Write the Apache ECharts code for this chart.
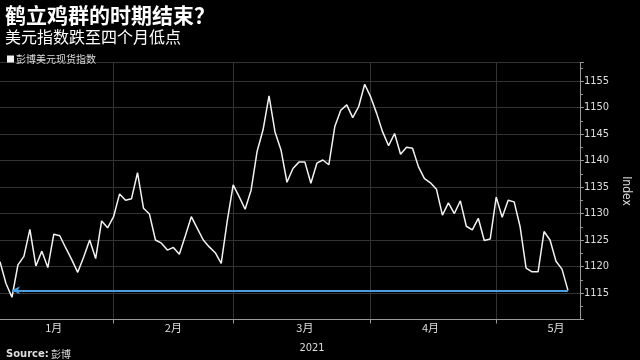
<!DOCTYPE html>
<html>
<head>
<meta charset="utf-8">
<script src="https://cdn.jsdelivr.net/npm/echarts@6/dist/echarts.min.js"></script>
<style>
html,body{margin:0;padding:0;background:#000;}
#chart{width:640px;height:360px;}
</style>
</head>
<body>
<div id="chart"></div>
<script>
// Trading days (categories)
const dates = [
  '2021-01-04','2021-01-05','2021-01-06','2021-01-07','2021-01-08','2021-01-11','2021-01-12','2021-01-13','2021-01-14','2021-01-15',
  '2021-01-18','2021-01-19','2021-01-20','2021-01-21','2021-01-22','2021-01-25','2021-01-26','2021-01-27','2021-01-28','2021-01-29',
  '2021-02-01','2021-02-02','2021-02-03','2021-02-04','2021-02-05','2021-02-08','2021-02-09','2021-02-10','2021-02-11','2021-02-12',
  '2021-02-15','2021-02-16','2021-02-17','2021-02-18','2021-02-19','2021-02-22','2021-02-23','2021-02-24','2021-02-25','2021-02-26',
  '2021-03-01','2021-03-02','2021-03-03','2021-03-04','2021-03-05','2021-03-08','2021-03-09','2021-03-10','2021-03-11','2021-03-12',
  '2021-03-15','2021-03-16','2021-03-17','2021-03-18','2021-03-19','2021-03-22','2021-03-23','2021-03-24','2021-03-25','2021-03-26',
  '2021-03-29','2021-03-30','2021-03-31',
  '2021-04-01','2021-04-05','2021-04-06','2021-04-07','2021-04-08','2021-04-09','2021-04-12','2021-04-13','2021-04-14','2021-04-15',
  '2021-04-16','2021-04-19','2021-04-20','2021-04-21','2021-04-22','2021-04-23','2021-04-26','2021-04-27','2021-04-28','2021-04-29',
  '2021-04-30',
  '2021-05-03','2021-05-04','2021-05-05','2021-05-06','2021-05-07','2021-05-10','2021-05-11','2021-05-12','2021-05-13','2021-05-14',
  '2021-05-17','2021-05-18','2021-05-19','2021-05-20'
];
// Bloomberg Dollar Spot Index values
const values = [
  1120.9,1116.8,1114.2,1120.3,1121.9,1127.0,1120.1,1122.9,1119.8,1126.1,
  1125.8,1123.5,1121.3,1118.9,1121.8,1125.0,1121.5,1128.6,1127.3,1129.4,
  1133.7,1132.5,1132.8,1137.7,1131.0,1129.9,1125.0,1124.4,1123.1,1123.6,
  1122.3,1125.8,1129.4,1127.2,1125.0,1123.7,1122.6,1120.6,1128.5,1135.4,
  1133.2,1130.8,1134.4,1141.7,1145.8,1152.2,1145.4,1142.0,1135.9,1138.5,
  1139.7,1139.7,1135.7,1139.5,1140.1,1139.2,1146.4,1149.5,1150.5,1148.1,
  1150.2,1154.4,1152.0,1148.9,1145.4,1142.8,1145.1,1141.2,1142.5,1142.3,
  1138.8,1136.6,1135.8,1134.6,1129.7,1132.0,1130.0,1132.4,1127.6,1126.9,
  1129.1,1124.9,1125.2,1133.1,1129.3,1132.5,1132.2,1127.5,1119.7,1119.0,
  1119.0,1126.6,1125.0,1121.0,1119.5,1115.5
];
// Month label positions (dates) and y ticks
const monthLabelDates = ['2021-01-15','2021-02-12','2021-03-16','2021-04-15','2021-05-14'];
const yMin = 1110, yMax = 1158.5, yStep = 5;
const seriesName = '彭博美元现货指数';

const lastIdx = values.length - 1;
const lastVal = values[lastIdx];
const lowIdx = values.indexOf(Math.min.apply(null, values));
const isMonthEnd = (i) => i < dates.length - 1 && dates[i].slice(5,7) !== dates[i+1].slice(5,7);
const numFont = "'DejaVu Sans Condensed', 'Liberation Sans', 'DejaVu Sans', sans-serif";

const chart = echarts.init(document.getElementById('chart'), null, {renderer:'canvas'});
chart.setOption({
  backgroundColor: '#000',
  animation: false,
  title: [
    {text: '鹤立鸡群的时期结束？', left: 0, top: 0,
     textStyle: {color:'#fff', fontSize: 21, fontWeight:'bold', fontFamily:'Noto Sans CJK SC'}},
    {text: '美元指数跌至四个月低点', left: 0, top: 24,
     textStyle: {color:'#fff', fontSize: 16, fontWeight:'normal', fontFamily:'Noto Sans CJK SC'}},
    {text: '2021', left: 307, top: 338, textAlign: 'center',
     textStyle: {color:'#ddd', fontSize: 11, fontWeight:'normal', fontFamily: numFont}},
    {text: '{b|Source:} 彭博', left: 1, top: 344,
     textStyle: {color:'#ddd', fontSize: 10, fontWeight:'normal', fontFamily:'Noto Sans CJK SC',
       rich: {b: {fontWeight:'bold', fontSize:10, color:'#ddd', fontFamily:'DejaVu Sans'}}}}
  ],
  legend: {
    data: [seriesName], left: 2, top: 49, icon: 'rect', itemWidth: 7, itemHeight: 7, itemGap: 4,
    textStyle: {color:'#ddd', fontSize: 10, fontFamily:'Noto Sans CJK SC', padding:[0,0,0,-3]}
  },
  grid: {left: 0, right: 48, top: 62.5, bottom: 40.5, containLabel: false},
  xAxis: {
    type: 'category', data: dates, boundaryGap: false,
    axisLine: {show: true, lineStyle: {color:'#9a9a9a', width: 1}},
    axisTick: {show: true, interval: (i) => isMonthEnd(i), length: 4, lineStyle: {color:'#9a9a9a'}},
    splitLine: {show: true, interval: (i) => isMonthEnd(i), lineStyle: {color:'#333', width: 1}},
    axisLabel: {
      interval: (i, v) => monthLabelDates.indexOf(v) >= 0,
      formatter: (v) => parseInt(v.slice(5,7), 10) + '月',
      color: '#ddd', fontSize: 11, margin: 3, fontFamily: 'Noto Sans CJK SC'
    }
  },
  yAxis: {
    type: 'value', position: 'right', min: yMin, max: yMax, interval: yStep,
    name: 'Index', nameLocation: 'middle', nameRotate: -90, nameGap: 38,
    nameTextStyle: {color:'#ddd', fontSize: 12, fontFamily: numFont},
    axisLine: {show: true, lineStyle: {color:'#9a9a9a', width: 1}},
    axisTick: {show: true, length: 4, lineStyle: {color:'#9a9a9a'}},
    minorTick: {show: true, splitNumber: 2, length: 3, lineStyle: {color:'#9a9a9a'}},
    splitLine: {show: true, lineStyle: {color:'#333', width: 1}},
    axisLabel: {color:'#ddd', fontSize: 11, margin: 4, showMinLabel: false, showMaxLabel: false,
      fontFamily: numFont, formatter: (v) => String(v)}
  },
  series: [{
    name: seriesName, type: 'line', data: values, symbol: 'none', smooth: false,
    lineStyle: {color:'#f2f2f2', width: 1.5}, itemStyle: {color:'#f2f2f2'},
    markLine: {
      silent: true, animation: false,
      symbol: ['arrow','none'], symbolSize: [6, 8],
      label: {show: false},
      lineStyle: {color:'#4a9ee0', width: 2, type: 'solid'},
      data: [[
        {coord: [dates[lowIdx], lastVal]},
        {coord: [dates[lastIdx], lastVal]}
      ]]
    }
  }]
});
</script>
</body>
</html>
